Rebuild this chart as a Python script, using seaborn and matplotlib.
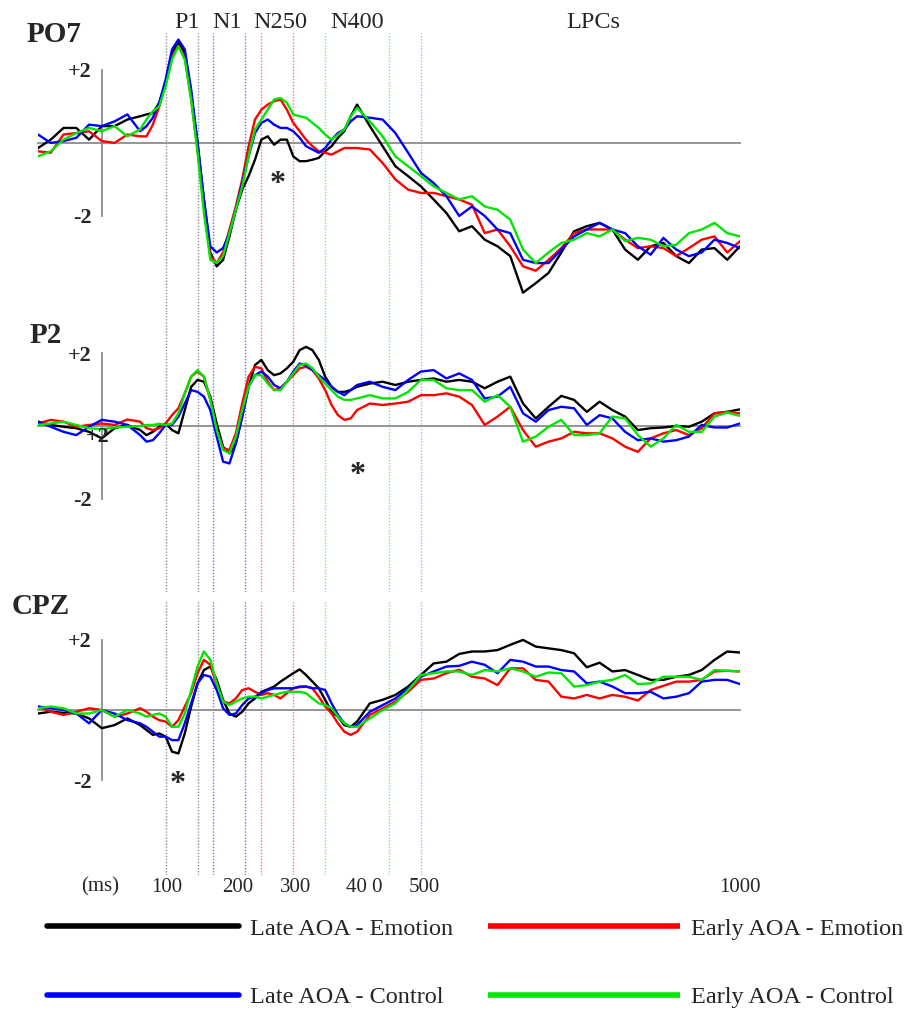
import numpy as np
import pandas as pd
import matplotlib
matplotlib.use("Agg")
import matplotlib.pyplot as plt
from matplotlib.lines import Line2D
import seaborn as sns

sns.set_style("white")
plt.rcParams["font.family"] = ["Liberation Serif", "DejaVu Serif"]

# ---------------- data ----------------
times = [-100, -80, -60, -40, -20, 0, 20, 40] + list(range(60, 401, 10)) + list(range(420, 1001, 20))

conditions = ["Late AOA - Emotion", "Early AOA - Emotion", "Late AOA - Control", "Early AOA - Control"]
colors = ["#000000", "#ff0000", "#0000ff", "#00e600"]

po7_late_emo = [-0.14, 0.09, 0.41, 0.41, 0.09, 0.46, 0.46, 0.64,
                0.73, 0.78, 0.82, 1.10, 1.64, 2.47, 2.74, 2.47, 1.37, 0.00,
                -1.55, -3.00, -3.38, -3.20, -2.56, -1.83, -1.28, -0.91, -0.46, 0.09,
                0.18, -0.05, 0.09, 0.09, -0.37, -0.50, -0.50, -0.46, -0.41, -0.23,
                -0.09, 0.14, 0.32, 0.73, 1.05,
                0.46, -0.09, -0.64, -0.91, -1.19, -1.55, -1.92, -2.42, -2.28, -2.65,
                -2.83, -3.10, -4.10, -3.84, -3.56, -3.00, -2.42, -2.28, -2.19, -2.37,
                -2.92, -3.20, -2.83, -2.74, -3.10, -3.29, -2.92, -2.88, -3.20, -2.83]
po7_early_emo = [-0.23, -0.27, 0.23, 0.27, 0.32, 0.05, 0.00, 0.23,
                 0.18, 0.18, 0.50, 1.00, 1.64, 2.37, 2.65, 2.37, 1.19, -0.18,
                 -1.74, -3.10, -3.29, -3.00, -2.37, -1.74, -1.00, -0.09, 0.64, 0.91,
                 1.05, 1.14, 1.19, 0.91, 0.55, 0.32, 0.09, -0.09, -0.23, -0.27,
                 -0.32, -0.23, -0.14, -0.14, -0.14,
                 -0.18, -0.55, -1.00, -1.28, -1.37, -1.37, -1.46, -1.55, -1.69, -2.47,
                 -2.37, -2.83, -3.38, -3.50, -3.20, -2.88, -2.47, -2.37, -2.37, -2.37,
                 -2.65, -2.88, -2.83, -2.88, -3.10, -2.88, -2.65, -2.56, -3.00, -2.69]
po7_late_ctl = [0.23, 0.00, 0.05, 0.14, 0.50, 0.46, 0.59, 0.78,
                0.32, 0.46, 0.69, 1.10, 1.74, 2.56, 2.83, 2.56, 1.46, 0.00,
                -1.55, -2.83, -3.00, -2.88, -2.47, -1.83, -1.10, -0.37, 0.27, 0.55,
                0.64, 0.50, 0.41, 0.41, 0.32, 0.14, -0.09, -0.18, -0.27, -0.14,
                0.09, 0.27, 0.37, 0.59, 0.73,
                0.69, 0.64, 0.27, -0.27, -0.82, -1.10, -1.46, -2.00, -1.74, -2.00,
                -2.37, -2.47, -3.20, -3.29, -3.29, -2.92, -2.56, -2.37, -2.19, -2.37,
                -2.47, -2.83, -3.06, -2.60, -2.92, -3.10, -3.00, -2.65, -2.74, -2.88]
po7_early_ctl = [-0.37, -0.23, 0.09, 0.27, 0.41, 0.32, 0.46, 0.18,
                 0.37, 0.64, 0.87, 1.00, 1.55, 2.28, 2.65, 2.28, 1.19, -0.27,
                 -1.92, -3.20, -3.29, -3.10, -2.47, -1.83, -1.19, -0.37, 0.37, 0.64,
                 0.91, 1.19, 1.23, 1.10, 0.78, 0.73, 0.69, 0.55, 0.41, 0.23,
                 0.09, 0.23, 0.37, 0.73, 0.96,
                 0.59, 0.18, -0.37, -0.64, -0.91, -1.19, -1.37, -1.55, -1.46, -1.74,
                 -1.83, -2.10, -2.92, -3.29, -3.00, -2.74, -2.65, -2.47, -2.56, -2.37,
                 -2.69, -2.60, -2.65, -2.83, -2.79, -2.47, -2.37, -2.19, -2.47, -2.56]

p2_late_emo = [0.12, 0.03, -0.02, -0.06, -0.16, -0.34, -0.06, 0.03,
               -0.11, -0.25, -0.16, -0.02, 0.07, -0.11, -0.20, 0.44, 1.08, 1.27,
               1.22, 0.81, 0.07, -0.57, -0.75, -0.48, 0.26, 1.08, 1.68, 1.82,
               1.54, 1.40, 1.45, 1.59, 1.77, 2.09, 2.18, 2.09, 1.82, 1.36,
               1.08, 0.94, 0.94, 0.99, 1.08,
               1.17, 1.22, 1.13, 1.22, 1.27, 1.31, 1.22, 1.27, 1.22, 1.04,
               1.22, 1.36, 0.62, 0.21, 0.53, 0.83, 0.72, 0.39, 0.67, 0.44,
               0.26, -0.11, -0.06, -0.04, 0.00, -0.02, 0.12, 0.35, 0.39, 0.46]
p2_early_emo = [0.07, 0.17, 0.12, -0.02, 0.03, 0.07, 0.03, 0.18,
                0.12, -0.06, -0.11, -0.06, 0.07, 0.30, 0.49, 0.90, 1.36, 1.50,
                1.36, 0.72, -0.11, -0.61, -0.66, -0.20, 0.62, 1.36, 1.63, 1.59,
                1.22, 0.99, 1.04, 1.22, 1.40, 1.59, 1.63, 1.54, 1.31, 0.99,
                0.58, 0.30, 0.17, 0.21, 0.44,
                0.62, 0.58, 0.62, 0.67, 0.85, 0.85, 0.90, 0.81, 0.58, 0.03,
                0.26, 0.53, -0.11, -0.57, -0.43, -0.34, -0.16, -0.20, -0.20, -0.34,
                -0.57, -0.71, -0.34, -0.20, -0.11, -0.25, -0.06, 0.35, 0.39, 0.35]
p2_late_ctl = [0.12, -0.02, -0.16, -0.25, -0.02, 0.17, 0.12, 0.03,
               -0.25, -0.43, -0.39, -0.20, 0.03, 0.03, 0.26, 0.62, 0.99, 0.94,
               0.81, 0.44, -0.29, -0.98, -1.03, -0.48, 0.26, 1.08, 1.40, 1.50,
               1.36, 1.13, 1.04, 1.22, 1.50, 1.72, 1.68, 1.54, 1.40, 1.27,
               1.08, 0.94, 0.85, 0.99, 1.13,
               1.22, 1.08, 0.99, 1.27, 1.50, 1.54, 1.31, 1.45, 1.27, 0.76,
               0.81, 1.08, 0.35, 0.12, 0.44, 0.53, 0.49, 0.03, 0.30, 0.21,
               -0.16, -0.39, -0.34, -0.43, -0.39, -0.29, 0.03, -0.04, -0.04, 0.07]
p2_early_ctl = [0.03, 0.07, 0.12, 0.03, -0.06, -0.09, -0.04, -0.02,
                0.00, 0.03, 0.03, 0.06, 0.03, 0.07, 0.35, 0.90, 1.36, 1.54,
                1.36, 0.72, -0.11, -0.66, -0.75, -0.29, 0.44, 1.08, 1.40, 1.40,
                1.17, 0.99, 0.99, 1.22, 1.45, 1.68, 1.72, 1.59, 1.36, 1.17,
                0.99, 0.81, 0.72, 0.72, 0.76,
                0.85, 0.76, 0.76, 0.94, 1.27, 1.27, 1.04, 0.99, 0.99, 0.67,
                0.85, 0.53, -0.43, -0.29, -0.02, 0.17, -0.25, -0.25, -0.20, 0.26,
                0.21, -0.25, -0.57, -0.34, 0.03, -0.16, -0.16, 0.26, 0.37, 0.28]

cpz_late_emo = [-0.10, -0.05, -0.08, -0.10, -0.24, -0.52, -0.43, -0.24,
                -0.43, -0.57, -0.71, -0.67, -0.76, -1.19, -1.24, -0.67, 0.10, 0.76,
                1.14, 1.24, 0.86, 0.29, -0.10, -0.19, -0.05, 0.19, 0.33, 0.52,
                0.59, 0.67, 0.81, 0.93, 1.05, 1.16, 1.00, 0.81, 0.62, 0.29,
                -0.05, -0.19, -0.43, -0.48, -0.33,
                0.19, 0.29, 0.43, 0.67, 1.00, 1.33, 1.38, 1.60, 1.67, 1.67,
                1.71, 1.86, 2.00, 1.81, 1.76, 1.71, 1.62, 1.22, 1.35, 1.10,
                1.14, 1.00, 0.86, 0.86, 0.95, 1.00, 1.14, 1.43, 1.67, 1.64]
cpz_early_emo = [0.10, -0.05, -0.14, -0.05, 0.05, 0.00, -0.19, -0.10,
                 0.05, -0.05, -0.19, -0.29, -0.33, -0.48, -0.29, 0.10, 0.48, 1.05,
                 1.43, 1.29, 0.71, 0.24, 0.19, 0.33, 0.57, 0.62, 0.52, 0.43,
                 0.48, 0.43, 0.33, 0.48, 0.62, 0.65, 0.67, 0.62, 0.38, 0.10,
                 -0.10, -0.38, -0.62, -0.71, -0.62,
                 -0.14, 0.05, 0.24, 0.52, 0.86, 0.90, 1.05, 1.15, 0.95, 0.90,
                 0.71, 1.19, 1.19, 0.86, 0.81, 0.38, 0.33, 0.43, 0.33, 0.43,
                 0.38, 0.27, 0.57, 0.69, 0.81, 0.81, 0.86, 1.10, 1.12, 1.10]
cpz_late_ctl = [0.10, 0.05, 0.00, -0.10, -0.38, 0.00, -0.10, -0.29,
                -0.38, -0.48, -0.62, -0.76, -0.76, -0.86, -0.86, -0.38, 0.19, 0.76,
                1.00, 0.95, 0.57, 0.05, -0.14, -0.10, 0.14, 0.33, 0.38, 0.48,
                0.57, 0.62, 0.62, 0.62, 0.62, 0.67, 0.67, 0.62, 0.62, 0.57,
                0.19, -0.14, -0.38, -0.48, -0.43,
                -0.05, 0.14, 0.33, 0.62, 0.95, 1.10, 1.24, 1.26, 1.38, 1.29,
                1.05, 1.43, 1.38, 1.24, 1.24, 1.14, 1.10, 0.76, 0.81, 0.67,
                0.48, 0.48, 0.52, 0.33, 0.38, 0.48, 0.81, 0.86, 0.86, 0.74]
cpz_early_ctl = [0.05, 0.10, 0.05, -0.10, -0.10, 0.00, -0.19, 0.00,
                 -0.10, -0.19, -0.14, -0.10, -0.19, -0.48, -0.48, -0.10, 0.57, 1.24,
                 1.67, 1.43, 0.76, 0.24, 0.14, 0.24, 0.33, 0.38, 0.38, 0.33,
                 0.38, 0.43, 0.48, 0.52, 0.52, 0.52, 0.48, 0.33, 0.19, 0.14,
                 0.05, -0.19, -0.38, -0.48, -0.48,
                 -0.24, 0.00, 0.19, 0.57, 1.00, 1.05, 1.10, 1.10, 1.00, 1.14,
                 1.10, 1.19, 1.10, 0.95, 1.07, 1.05, 0.67, 0.71, 0.81, 0.86,
                 1.00, 0.74, 0.76, 0.95, 0.95, 0.95, 0.86, 1.14, 1.12, 1.10]

electrodes = ["PO7", "P2", "CPZ"]
panel_series = [
    [po7_late_emo, po7_early_emo, po7_late_ctl, po7_early_ctl],
    [p2_late_emo, p2_early_emo, p2_late_ctl, p2_early_ctl],
    [cpz_late_emo, cpz_early_emo, cpz_late_ctl, cpz_early_ctl],
]

window_ms = [100, 150, 175, 225, 250, 300, 350, 450, 500]
window_colors = ["#8f8f8f", "#8f8f8f", "#6f6fff", "#6f6fff", "#ff7575",
                 "#ff7575", "#70f070", "#70f070", "#d49aff"]

component_labels = ["P1", "N1", "N250", "N400", "LPCs"]
component_ms = [133, 197, 279, 400, 770]

star_ms = [276, 401, 119]
star_uv = [-0.93, -1.16, -1.90]

xlabel_texts = ["(ms)", "100", "200", "300", "40 0", "500", "1000"]
xlabel_ms = [-3, 102, 213, 303, 412, 506, 1000]

# ---------------- figure ----------------
W, H = 911, 1016
fig = plt.figure(figsize=(W / 100, H / 100), dpi=100)
palette = dict(zip(conditions, colors))

panel_px = [(33, 312, (-4.63, 3.01)), (312, 592, (-4.57, 3.14)), (600, 875, (-4.71, 3.14))]
left_px, right_px = 38, 740

axes = []
for i, (top, bot, ylim) in enumerate(panel_px):
    ax = fig.add_axes([left_px / W, 1 - bot / H, (right_px - left_px) / W, (bot - top) / H])
    ax.set_facecolor("none")
    for ms, c in zip(window_ms, window_colors):
        ax.axvline(ms, color=c, lw=1.0, linestyle=(0, (1, 1.2)), zorder=1)
    df = pd.concat([pd.DataFrame({"ms": times, "uv": vals, "cond": cond})
                    for cond, vals in zip(conditions, panel_series[i])], ignore_index=True)
    sns.lineplot(data=df, x="ms", y="uv", hue="cond", hue_order=conditions, palette=palette,
                 estimator=None, sort=False, legend=False, lw=1.7, ax=ax, zorder=3,
                 solid_joinstyle="round", solid_capstyle="round")
    ax.set_xlim(-100, 1000)
    ax.set_ylim(*ylim)
    ax.set_xlabel("")
    ax.set_ylabel("")
    for s in ["top", "right"]:
        ax.spines[s].set_visible(False)
    ax.spines["left"].set_position(("data", 0))
    ax.spines["left"].set_bounds(-2, 2)
    ax.spines["bottom"].set_position(("data", 0))
    for s in ["left", "bottom"]:
        ax.spines[s].set_color("#8c8c8c")
        ax.spines[s].set_linewidth(1.3)
        ax.spines[s].set_zorder(2)
    ax.set_yticks([-2, -1, 0, 1, 2])
    ax.set_yticklabels(["-2", "", "", "", "+2"])
    ax.set_xticks(list(range(0, 1001, 100)))
    ax.set_xticklabels([])
    ax.tick_params(axis="x", direction="out", length=3, width=1, color="#8c8c8c")
    ax.tick_params(axis="y", direction="out", length=4, width=1, color="#8c8c8c", pad=3)
    for lbl in ax.get_yticklabels():
        lbl.set_fontweight("bold")
        lbl.set_fontsize(16)
    ax.grid(False)
    axes.append(ax)

# electrode titles
title_px = [(27, 34), (30, 335), (12, 607)]
for name, (x, y) in zip(electrodes, title_px):
    fig.text(x / W, 1 - y / H, name, fontsize=21, fontweight="bold", ha="left", va="center")

# component labels above top panel
for lab, ms in zip(component_labels, component_ms):
    xf = (left_px + (ms + 100) / 1100 * (right_px - left_px)) / W
    fig.text(xf, 1 - 22 / H, lab, fontsize=17.5, ha="center", va="center")

# significance stars
for ax, ms, uv in zip(axes, star_ms, star_uv):
    ax.annotate("*", xy=(ms, uv), xytext=(0, -11), textcoords="offset points",
                ha="center", va="baseline", fontsize=23, fontweight="bold", zorder=5)

# stray "+2" label of the original P2 panel
fig.text(98 / W, 1 - 437 / H, "+2", fontsize=16, fontweight="bold", ha="center", va="center")

# time labels under the bottom panel
for t, ms in zip(xlabel_texts, xlabel_ms):
    xf = (left_px + (ms + 100) / 1100 * (right_px - left_px)) / W
    fig.text(xf, 1 - 887 / H, t, fontsize=15, ha="center", va="center")

# legends
leg_kw = dict(loc="center left", frameon=False, handlelength=7.9, handletextpad=0.45,
              labelspacing=1.9, borderpad=0, borderaxespad=0,
              prop={"family": "Liberation Serif", "size": 17.5})
h_left = [Line2D([], [], color=palette[c], lw=4, solid_capstyle="round") for c in (conditions[0], conditions[2])]
h_right = [Line2D([], [], color=palette[c], lw=4, solid_capstyle="butt") for c in (conditions[1], conditions[3])]
fig.legend(h_left, [conditions[0], conditions[2]], bbox_to_anchor=(47 / W, 1 - 963 / H), **leg_kw)
fig.legend(h_right, [conditions[1], conditions[3]], bbox_to_anchor=(488 / W, 1 - 963 / H), **leg_kw)

fig.savefig("out.png", dpi=100, facecolor="white")
